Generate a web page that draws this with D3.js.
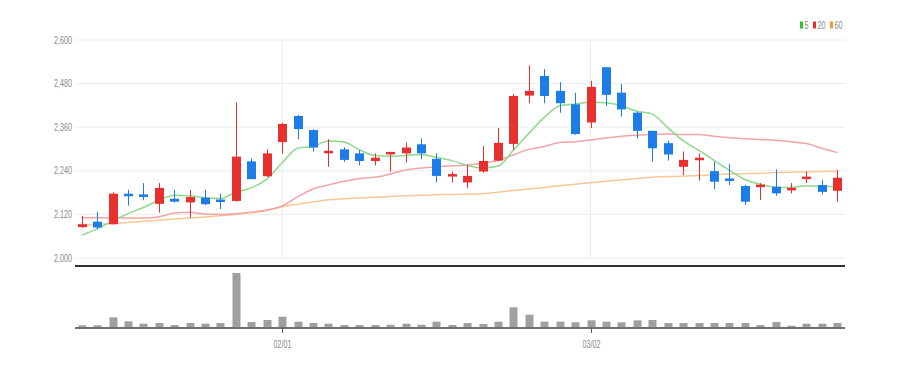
<!DOCTYPE html>
<html><head><meta charset="utf-8">
<script src="https://cdn.jsdelivr.net/npm/d3@7"></script>
<style>html,body{margin:0;padding:0;background:#fff;}svg{display:block;}</style>
</head><body>
<svg id="chart" width="899" height="369"></svg>
<script>
const dates = ["01/11","01/12","01/13","01/16","01/17","01/18","01/19","01/20","01/25","01/26","01/27","01/30","01/31",
"02/01","02/02","02/03","02/06","02/07","02/08","02/09","02/10","02/13","02/14","02/15","02/16","02/17","02/20","02/21","02/22","02/23","02/24","02/27","02/28",
"03/02","03/03","03/06","03/07","03/08","03/09","03/10","03/13","03/14","03/15","03/16","03/17","03/20","03/21","03/22","03/23","03/24"];
const openP  = [2085,2100,2093,2177,2175,2149,2163,2153,2166,2161,2157,2266,2225,2319,2391,2352,2290,2299,2288,2267,2286,2288,2313,2273,2228,2208,2238,2268,2314,2447,2501,2460,2423,2373,2525,2455,2400,2350,2316,2251,2269,2239,2219,2198,2195,2196,2189,2219,2201,2185];
const highP  = [2116,2127,2181,2188,2206,2206,2188,2188,2188,2177,2428,2274,2299,2372,2394,2354,2327,2305,2297,2288,2292,2318,2329,2288,2238,2256,2308,2358,2451,2530,2520,2484,2455,2488,2525,2479,2403,2350,2323,2293,2288,2265,2258,2201,2206,2244,2206,2238,2215,2242];
const lowP   = [2083,2080,2092,2144,2159,2125,2153,2111,2146,2135,2155,2217,2223,2288,2327,2293,2251,2264,2255,2255,2238,2263,2272,2208,2208,2192,2235,2266,2297,2426,2426,2400,2339,2358,2418,2389,2329,2265,2268,2228,2213,2189,2201,2146,2160,2171,2178,2206,2175,2155];
const closeP = [2093,2084,2177,2170,2168,2193,2155,2168,2148,2155,2279,2217,2288,2369,2355,2304,2295,2270,2267,2276,2292,2304,2288,2226,2231,2226,2267,2317,2446,2460,2446,2426,2341,2471,2449,2409,2350,2302,2285,2270,2276,2210,2212,2155,2202,2178,2193,2224,2182,2221];
const volume = [27000,27000,107000,67000,43000,50000,30000,50000,43000,50000,550000,60000,80000,113000,63000,50000,43000,30000,30000,30000,33000,43000,33000,63000,30000,50000,40000,63000,207000,133000,63000,63000,57000,77000,63000,57000,77000,80000,50000,50000,50000,50000,50000,50000,30000,60000,23000,43000,43000,50000];
const ma5  = [2063,2080,2102,2122,2139,2159,2173,2171,2166,2164,2181,2193,2217,2262,2302,2307,2322,2319,2298,2282,2280,2282,2285,2277,2268,2255,2248,2253,2297,2343,2387,2419,2424,2429,2427,2419,2404,2396,2359,2323,2297,2269,2242,2216,2203,2195,2194,2199,2197,2197];
const ma20 = [2111,2111,2111,2110,2110,2113,2124,2126,2121,2120,2122,2126,2132,2143,2168,2190,2201,2211,2219,2222,2231,2242,2248,2251,2254,2256,2261,2269,2284,2299,2307,2318,2320,2325,2330,2335,2338,2340,2341,2340,2340,2335,2331,2328,2326,2324,2320,2315,2302,2290];
const ma60 = [2090,2092,2095,2098,2101,2104,2107,2110,2113,2116,2120,2125,2131,2141,2148,2154,2160,2163,2165,2167,2169,2171,2173,2174,2175,2176,2177,2181,2186,2190,2194,2199,2203,2207,2211,2215,2219,2222,2224,2225,2227,2229,2231,2232,2233,2235,2236,2237,2238,2239];
const yTicks = [2000,2120,2240,2360,2480,2600];
const xTickLabels = ["02/01","03/02"];
const legendNames = ["5","20","60"];

const colors = {up:"#e8302f", down:"#1c7ce8", ma5:"#8fd88c", ma20:"#f4a3a6", ma60:"#f8c898", grid:"#ececec", text:"#888888", vol:"#a0a0a0"};
const svg = d3.select("#chart");
const L = 74, R = 845;
const x = d3.scaleBand().domain(d3.range(dates.length)).range([L, R]).padding(0);
const cx = i => x(i) + x.bandwidth()/2;
const y = d3.scaleLinear().domain([2000, 2600]).range([258, 40]);
const yv = d3.scaleLinear().domain([0, 550000]).range([328, 273]);
const sq = 0.72;
const font = "Liberation Sans, Arial, sans-serif";

// grid
svg.append("g").selectAll("line").data(yTicks).join("line")
  .attr("x1", L+2).attr("x2", R).attr("y1", d=>y(d)).attr("y2", d=>y(d))
  .attr("stroke", colors.grid).attr("stroke-width", 1);
const tickIdx = xTickLabels.map(l => dates.indexOf(l));
svg.append("g").selectAll("line").data(tickIdx).join("line")
  .attr("x1", d=>cx(d)).attr("x2", d=>cx(d)).attr("y1", y(2600)).attr("y2", y(2000))
  .attr("stroke", colors.grid).attr("stroke-width", 1);

// y labels
svg.append("g").selectAll("text").data(yTicks).join("text")
  .attr("transform", d=>`translate(72,${y(d)}) scale(${sq},1)`)
  .attr("dy","0.35em").attr("text-anchor","end")
  .attr("font-family", font).attr("font-size", 10).attr("fill", colors.text)
  .text(d3.format(","));

// MA lines
const line = d3.line().x((d,i)=>cx(i)).y(d=>y(d)).curve(d3.curveMonotoneX);
[[ma60,colors.ma60],[ma20,colors.ma20],[ma5,colors.ma5]].forEach(([arr,c])=>{
  svg.append("path").datum(arr).attr("d", line).attr("fill","none").attr("stroke", c).attr("stroke-width", 1.5);
});

// candles
const bw = 9;
const cg = svg.append("g").selectAll("g").data(d3.range(dates.length)).join("g");
cg.append("line")
  .attr("x1", i=>Math.round(cx(i))+0.5).attr("x2", i=>Math.round(cx(i))+0.5)
  .attr("y1", i=>y(highP[i])).attr("y2", i=>y(lowP[i]))
  .attr("stroke", i=> closeP[i]>=openP[i]?colors.up:colors.down).attr("stroke-width", 1);
cg.append("rect")
  .attr("x", i=>Math.round(cx(i))+0.5 - bw/2).attr("width", bw)
  .attr("y", i=>y(Math.max(openP[i],closeP[i])))
  .attr("height", i=>Math.max(2.5, Math.abs(y(openP[i])-y(closeP[i]))))
  .attr("fill", i=> closeP[i]>=openP[i]?colors.up:colors.down);

// separator
svg.append("line").attr("x1", L+1).attr("x2", R).attr("y1", 266).attr("y2", 266).attr("stroke","#2f2f2f").attr("stroke-width", 2);

// volume bars
const vw = 8;
svg.append("g").selectAll("rect").data(d3.range(dates.length)).join("rect")
  .attr("x", i=>Math.round(cx(i))+0.5 - vw/2).attr("width", vw)
  .attr("y", i=>yv(volume[i])).attr("height", i=>yv(0)-yv(volume[i]))
  .attr("fill", colors.vol);
svg.append("line").attr("x1", L+1).attr("x2", R).attr("y1", 328).attr("y2", 328).attr("stroke","#6f6f6f").attr("stroke-width", 2);

// x ticks & labels
const xt = svg.append("g").selectAll("g").data(xTickLabels).join("g")
  .attr("transform", d=>`translate(${Math.round(cx(dates.indexOf(d)))+0.5},0)`);
xt.append("line").attr("y1", 328).attr("y2", 333).attr("stroke","#555").attr("stroke-width",1);
xt.append("text").attr("transform", `translate(0,348) scale(${sq},1)`).attr("text-anchor","middle")
  .attr("font-family", font).attr("font-size", 10).attr("fill", colors.text)
  .text(d=>d);

// legend
const legColors = ["#2fc22f", "#e8302f", "#f39a3d"];
const legX = [800, 813, 830];
const lg = svg.append("g").selectAll("g").data(legendNames).join("g")
  .attr("transform", (d,i)=>`translate(${legX[i]},0)`);
lg.append("rect").attr("x",0).attr("y",21.5).attr("width",3).attr("height",7).attr("fill",(d,i)=>legColors[i]);
lg.append("text").attr("transform", `translate(4.5,29) scale(${sq},1)`)
  .attr("font-family", font).attr("font-size", 10).attr("fill", colors.text)
  .text(d=>d);
</script>
</body></html>
